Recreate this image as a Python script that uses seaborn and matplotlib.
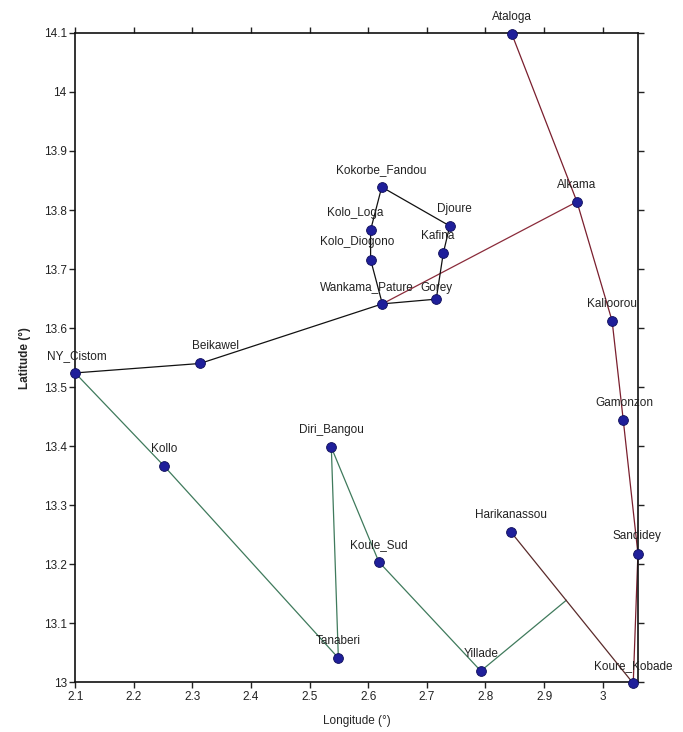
import matplotlib
matplotlib.use("Agg")
import matplotlib.pyplot as plt
import seaborn as sns
import pandas as pd

# ---- data ----
stations = ["NY_Cistom", "Beikawel", "Wankama_Pature", "Kolo_Diogono", "Kolo_Loga",
            "Kokorbe_Fandou", "Djoure", "Kafina", "Gorey", "Ataloga", "Alkama",
            "Kalioorou", "Gamonzon", "Sandidey", "Koure_Kobade", "Harikanassou",
            "Kollo", "Tanaberi", "Diri_Bangou", "Koule_Sud", "Yillade"]
lons = [2.100, 2.313, 2.624, 2.604, 2.604, 2.623, 2.739, 2.728, 2.716, 2.845, 2.956,
        3.016, 3.035, 3.060, 3.052, 2.843, 2.252, 2.549, 2.537, 2.618, 2.792]
lats = [13.524, 13.540, 13.641, 13.716, 13.766, 13.839, 13.773, 13.727, 13.649, 14.098,
        13.814, 13.612, 13.444, 13.218, 12.998, 13.255, 13.366, 13.041, 13.398, 13.204,
        13.019]
# junction where the green route meets the Harikanassou branch (no marker)
junction_name = "junction"
junction_lon = 2.938
junction_lat = 13.139

black_route = ["NY_Cistom", "Beikawel", "Wankama_Pature", "Kolo_Diogono", "Kolo_Loga",
               "Kokorbe_Fandou", "Djoure", "Kafina", "Gorey", "Wankama_Pature"]
red_route_main = ["Ataloga", "Alkama", "Kalioorou", "Gamonzon", "Sandidey", "Koure_Kobade"]
red_route_west = ["Wankama_Pature", "Alkama"]
red_route_hk = ["Harikanassou", "Koure_Kobade"]
green_route = ["NY_Cistom", "Kollo", "Tanaberi", "Diri_Bangou", "Koule_Sud", "Yillade",
               "junction"]

# label offsets in points (dx, dy)
label_offsets = {
    "Kolo_Loga": (-11, 8), "Kolo_Diogono": (-10, 8), "Wankama_Pature": (-11, 8),
    "Beikawel": (11, 8), "Djoure": (3, 8), "Kafina": (-4, 8), "Gorey": (0, 4),
    "Sandidey": (-1, 8), "Gamonzon": (1, 8), "NY_Cistom": (1, 8),
}

# ---- build tables ----
pts = pd.DataFrame({"station": stations, "lon": lons, "lat": lats})
allpts = pd.concat([pts, pd.DataFrame({"station": [junction_name],
                                       "lon": [junction_lon], "lat": [junction_lat]})],
                   ignore_index=True).set_index("station")

def route_df(route):
    d = allpts.loc[route].reset_index()
    d["order"] = range(len(d))
    return d

sns.set_style("white")
plt.rcParams["font.family"] = ["Liberation Sans", "DejaVu Sans"]

fig = plt.figure(figsize=(6.83, 7.32), dpi=100)
ax = fig.add_axes([0.110, 0.068, 0.824, 0.887])

line_kw = dict(sort=False, estimator=None, linewidth=0.9, legend=False, ax=ax)
sns.lineplot(data=route_df(green_route), x="lon", y="lat", color="#3f7a5c", **line_kw)
sns.lineplot(data=route_df(red_route_west), x="lon", y="lat", color="#8a2b3a", **line_kw)
sns.lineplot(data=route_df(red_route_main), x="lon", y="lat", color="#7a1f2e", **line_kw)
sns.lineplot(data=route_df(red_route_hk), x="lon", y="lat", color="#5a2a2a", **line_kw)
sns.lineplot(data=route_df(black_route), x="lon", y="lat", color="#111111", **line_kw)
for ln in ax.lines:
    ln.set_clip_on(False)

sns.scatterplot(data=pts, x="lon", y="lat", s=50, color="#1f1f9a",
                edgecolor="#10105a", linewidth=0.6, zorder=5, ax=ax, legend=False,
                clip_on=False)

for name, x, y in zip(stations, lons, lats):
    dx, dy = label_offsets.get(name, (0, 8))
    ax.annotate(name, (x, y), xytext=(dx, dy), textcoords="offset points",
                ha="center", va="bottom", fontsize=8.5, color="#222222", zorder=6,
                annotation_clip=False)

ax.set_xlim(2.1, 3.06)
ax.set_ylim(13.0, 14.1)
ax.set_xticks([2.1, 2.2, 2.3, 2.4, 2.5, 2.6, 2.7, 2.8, 2.9, 3.0])
ax.set_xticklabels(["2.1", "2.2", "2.3", "2.4", "2.5", "2.6", "2.7", "2.8", "2.9", "3"])
ax.set_yticks([13.0, 13.1, 13.2, 13.3, 13.4, 13.5, 13.6, 13.7, 13.8, 13.9, 14.0, 14.1])
ax.set_yticklabels(["13", "13.1", "13.2", "13.3", "13.4", "13.5", "13.6", "13.7",
                    "13.8", "13.9", "14", "14.1"])
ax.tick_params(axis="both", which="both", direction="out", length=4, width=1,
               labelsize=8.5, colors="#222222", top=True, right=True,
               labeltop=False, labelright=False, bottom=True, left=True, pad=2)
for sp in ax.spines.values():
    sp.set_visible(True)
    sp.set_color("#111111")
    sp.set_linewidth(1.2)

ax.set_xlabel("Longitude (°)", fontsize=8.5, labelpad=9)
ax.set_ylabel("Latitude (°)", fontsize=8.5, fontweight="bold", labelpad=9)
ax.grid(False)

fig.savefig("out.png", dpi=100, facecolor="white")
